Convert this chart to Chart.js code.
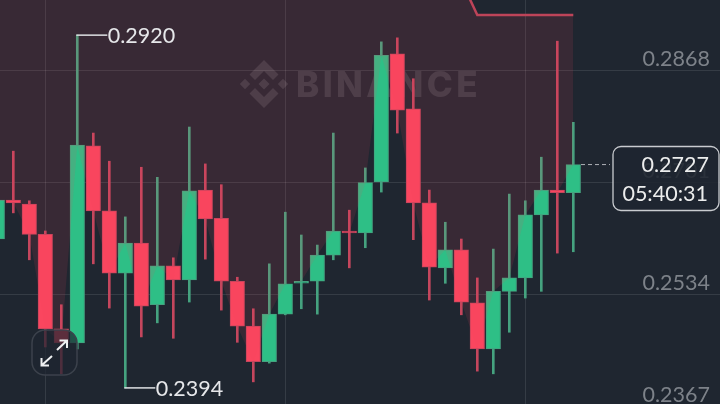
<!DOCTYPE html>
<html>
<head>
<meta charset="utf-8">
<title>Binance chart</title>
<script src="https://cdn.jsdelivr.net/npm/chart.js@4/dist/chart.umd.min.js"></script>
<style>
  html, body { margin: 0; padding: 0; background: #1f2630; overflow: hidden; }
  canvas { display: block; }
</style>
</head>
<body>
<canvas id="grafico" width="720" height="404"></canvas>
<script>
const opens  = [0.2616, 0.2674, 0.2668, 0.2623, 0.2482, 0.2461, 0.2755, 0.2658, 0.2565, 0.2610, 0.2518, 0.2576, 0.2555, 0.2689, 0.2647, 0.2553, 0.2486, 0.2433, 0.2504, 0.2550, 0.2553, 0.2592, 0.2626, 0.2625, 0.2701, 0.2892, 0.2810, 0.2670, 0.2573, 0.2600, 0.2521, 0.2452, 0.2538, 0.2558, 0.2652, 0.2689, 0.2685];
const highs  = [0.2674, 0.2747, 0.2673, 0.2628, 0.2518, 0.2920, 0.2774, 0.2732, 0.2649, 0.2723, 0.2708, 0.2588, 0.2783, 0.2728, 0.2697, 0.2559, 0.2512, 0.2579, 0.2656, 0.2622, 0.2607, 0.2774, 0.2659, 0.2722, 0.2910, 0.2916, 0.2855, 0.2689, 0.2641, 0.2616, 0.2558, 0.2601, 0.2683, 0.2673, 0.2738, 0.2911, 0.2790];
const lows   = [0.2616, 0.2655, 0.2585, 0.2455, 0.2415, 0.2452, 0.2579, 0.2513, 0.2394, 0.2470, 0.2491, 0.2468, 0.2522, 0.2586, 0.2510, 0.2462, 0.2403, 0.2431, 0.2503, 0.2512, 0.2504, 0.2585, 0.2573, 0.2603, 0.2686, 0.2774, 0.2615, 0.2525, 0.2550, 0.2503, 0.2419, 0.2415, 0.2477, 0.2528, 0.2538, 0.2595, 0.2597];
const closes = [0.2674, 0.2670, 0.2623, 0.2482, 0.2461, 0.2756, 0.2658, 0.2565, 0.2610, 0.2516, 0.2576, 0.2555, 0.2688, 0.2646, 0.2553, 0.2486, 0.2433, 0.2504, 0.2549, 0.2553, 0.2592, 0.2628, 0.2625, 0.2700, 0.2890, 0.2808, 0.2670, 0.2574, 0.2600, 0.2522, 0.2452, 0.2538, 0.2558, 0.2652, 0.2689, 0.2685, 0.2727];
const upperBand = [0.3001, 0.3001, 0.3001, 0.3001, 0.3001, 0.3001, 0.3001, 0.3001, 0.3001, 0.3001, 0.3001, 0.3001, 0.3001, 0.3001, 0.3001, 0.3001, 0.3001, 0.3001, 0.3001, 0.3001, 0.3001, 0.3001, 0.3001, 0.3001, 0.3001, 0.3001, 0.3001, 0.3001, 0.3001, 0.3001, 0.2950, 0.2950, 0.2950, 0.2950, 0.2950, 0.2950, 0.2950];
const priceTicks = [0.2868, 0.2701, 0.2534, 0.2367];
const timeTicks = [3, 18, 33];
const highLabel = { candle: 5, price: 0.2920 };
const lowLabel = { candle: 8, price: 0.2394 };
const lastPrice = '0.2727';
const countdown = '05:40:31';

const FONT = 'Lato, "Noto Sans", sans-serif';

function isUp(i) { return closes[i] >= opens[i]; }
const bodyColors = opens.map((o, i) => isUp(i) ? '#2ebf86' : '#fa465f');
const wickColors = opens.map((o, i) => isUp(i) ? '#45a27f' : '#c4465d');

const wicks = highs.map((h, i) => ({ x: i, y: [lows[i], h] }));
const bodies = opens.map((o, i) => ({ x: i, y: [o, closes[i]] }));
const closeLine = closes.map((c, i) => ({ x: i, y: c }));
const bandLine = upperBand.map((b, i) => ({ x: i, y: b }));

// axes take no room, the plot fills the whole canvas
function sinEspacio(axis) {
    axis.width = axis.isHorizontal() ? axis.width : 0;
    axis.height = axis.isHorizontal() ? 0 : axis.height;
    axis.paddingTop = axis.paddingBottom = axis.paddingLeft = axis.paddingRight = 0;
}

// watermark goes under the candles
const marcaAgua = {
    id: 'marcaAgua',
    beforeDatasetsDraw(chart) {
        const ctx = chart.ctx;
        ctx.save();
        ctx.fillStyle = 'rgba(255,255,255,0.115)';
        const cx = 264, cy = 84;
        const diamond = (x, y, r) => {
            ctx.beginPath();
            ctx.moveTo(x, y - r); ctx.lineTo(x + r, y); ctx.lineTo(x, y + r); ctx.lineTo(x - r, y);
            ctx.closePath();
            ctx.fill();
        };
        diamond(cx, cy, 5.5);
        diamond(cx - 19, cy, 5.2);
        diamond(cx + 19, cy, 5.2);
        [-1, 1].forEach(s => {
            ctx.beginPath();
            ctx.moveTo(cx - 14.5, cy + s * 9.5);
            ctx.lineTo(cx, cy + s * 24);
            ctx.lineTo(cx + 14.5, cy + s * 9.5);
            ctx.lineTo(cx + 9, cy + s * 4);
            ctx.lineTo(cx, cy + s * 13);
            ctx.lineTo(cx - 9, cy + s * 4);
            ctx.closePath();
            ctx.fill();
        });
        ctx.font = '800 35px Inter, sans-serif';
        ctx.letterSpacing = '3.4px';
        ctx.textBaseline = 'alphabetic';
        ctx.textAlign = 'left';
        ctx.fillText('BINANCE', 296, 97);
        ctx.restore();
    }
};

// labels, price box and expand button sit on top of everything
const encima = {
    id: 'encima',
    afterDraw(chart) {
        const ctx = chart.ctx;
        const xs = chart.scales.x, ys = chart.scales.y;
        ctx.save();

        ctx.strokeStyle = '#dfe1e4';
        ctx.lineWidth = 1.5;
        ctx.fillStyle = '#e6e7ea';
        ctx.font = '21.5px ' + FONT;
        ctx.textBaseline = 'middle';
        ctx.textAlign = 'left';
        [highLabel, lowLabel].forEach(p => {
            const x = xs.getPixelForValue(p.candle);
            const y = ys.getPixelForValue(p.price);
            ctx.beginPath();
            ctx.moveTo(x - 1, y);
            ctx.lineTo(x + 30, y);
            ctx.stroke();
            ctx.fillText(p.price.toFixed(4), x + 30.5, y + 1);
        });

        // last price dashes + box
        const yLast = ys.getPixelForValue(parseFloat(lastPrice));
        ctx.strokeStyle = '#aeb2b7';
        ctx.lineWidth = 1;
        ctx.setLineDash([4, 3]);
        ctx.beginPath();
        ctx.moveTo(581, yLast);
        ctx.lineTo(610, yLast);
        ctx.stroke();
        ctx.setLineDash([]);

        ctx.beginPath();
        ctx.roundRect(613, 146.5, 106, 64, 8);
        ctx.fillStyle = 'rgba(31,38,48,0.88)';
        ctx.fill();
        ctx.strokeStyle = '#c9ccd0';
        ctx.lineWidth = 1.3;
        ctx.stroke();

        ctx.fillStyle = '#eceded';
        ctx.textAlign = 'right';
        ctx.fillText(lastPrice, 709, 165);
        ctx.fillText(countdown, 708, 194);

        // expand button
        ctx.beginPath();
        ctx.roundRect(32, 330, 45, 45, 13);
        ctx.fillStyle = 'rgba(31,38,48,0.72)';
        ctx.fill();
        ctx.strokeStyle = '#3c424c';
        ctx.lineWidth = 1.5;
        ctx.stroke();

        ctx.strokeStyle = '#eef0f2';
        ctx.lineWidth = 2;
        ctx.beginPath();
        ctx.moveTo(52, 356); ctx.lineTo(41.5, 365.5);
        ctx.moveTo(41.5, 358); ctx.lineTo(41.5, 365.5); ctx.lineTo(49, 365.5);
        ctx.moveTo(57, 350); ctx.lineTo(67, 340.5);
        ctx.moveTo(59.5, 340.5); ctx.lineTo(67, 340.5); ctx.lineTo(67, 348);
        ctx.stroke();

        ctx.restore();
    }
};

new Chart(document.getElementById('grafico'), {
    type: 'bar',
    data: {
        datasets: [
            {
                // red band line, its fill down to the close line goes over the candles
                type: 'line',
                data: bandLine,
                borderColor: '#bd4459',
                borderWidth: 2.5,
                pointRadius: 0,
                tension: 0,
                backgroundColor: 'rgba(246,70,93,0.117)',
                fill: '+1',
                order: 0
            },
            {
                type: 'line',
                data: closeLine,
                borderColor: 'rgba(0,0,0,0)',
                borderWidth: 0,
                pointRadius: 0,
                tension: 0,
                fill: false,
                order: 1
            },
            {
                data: bodies,
                backgroundColor: bodyColors,
                borderColor: wickColors,
                borderWidth: 1,
                borderSkipped: false,
                barThickness: 14.5,
                minBarLength: 2,
                grouped: false,
                order: 2
            },
            {
                data: wicks,
                backgroundColor: wickColors,
                borderWidth: 0,
                barThickness: 2,
                grouped: false,
                order: 3
            }
        ]
    },
    options: {
        responsive: false,
        animation: false,
        events: [],
        layout: { padding: 0 },
        plugins: {
            legend: { display: false },
            tooltip: { enabled: false }
        },
        scales: {
            x: {
                type: 'linear',
                min: 0.16875,
                max: 45.16875,
                offset: false,
                afterBuildTicks: axis => { axis.ticks = timeTicks.map(v => ({ value: v })); },
                afterFit: sinEspacio,
                ticks: { display: false },
                grid: { color: 'rgba(255,255,255,0.1)', lineWidth: 1, offset: false, drawTicks: false },
                border: { display: false }
            },
            y: {
                position: 'right',
                min: 0.23700,
                max: 0.29724,
                afterBuildTicks: axis => { axis.ticks = priceTicks.map(v => ({ value: v })); },
                afterFit: sinEspacio,
                ticks: {
                    mirror: true,
                    padding: -10,
                    labelOffset: -11,
                    autoSkip: false,
                    color: '#7d8289',
                    font: { family: FONT, size: 21.5 },
                    callback: v => v.toFixed(4)
                },
                grid: { color: 'rgba(255,255,255,0.1)', lineWidth: 1, drawTicks: false },
                border: { display: false }
            }
        }
    },
    plugins: [marcaAgua, encima]
});
</script>
</body>
</html>
